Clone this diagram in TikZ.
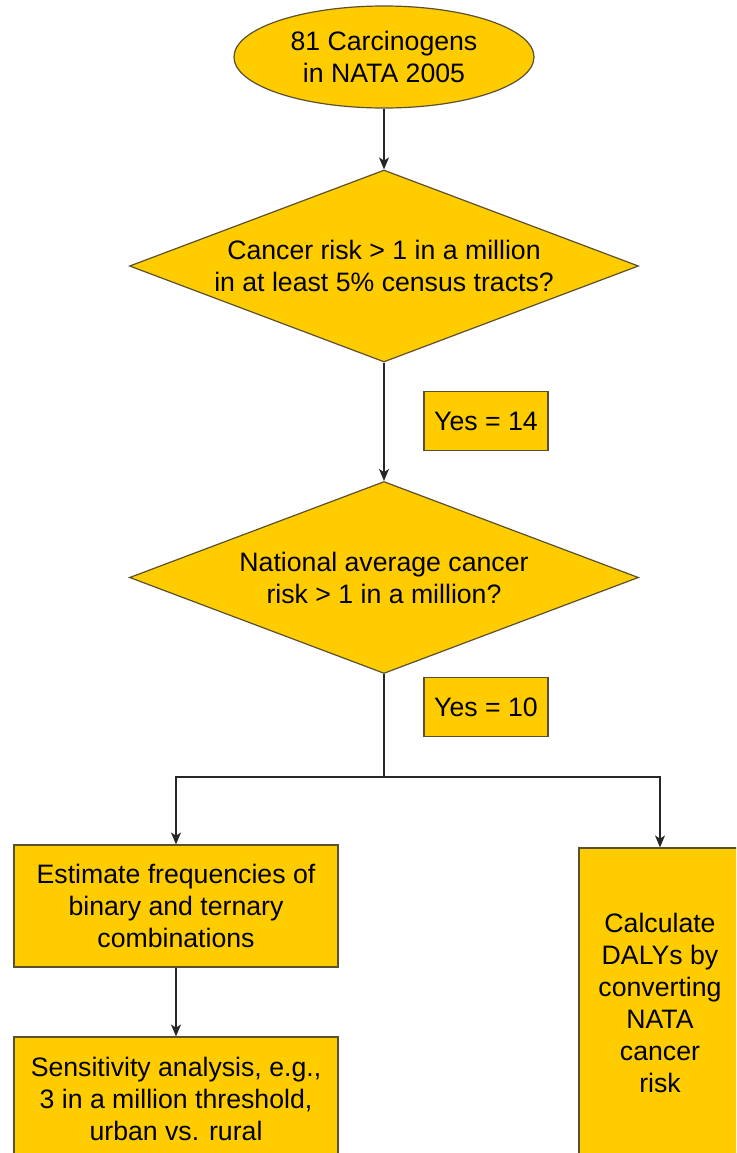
\documentclass[tikz,border=0pt]{standalone}
\usepackage{fontspec}
\setmainfont{Liberation Sans}
\usetikzlibrary{shapes.geometric,arrows.meta}
\definecolor{boxfill}{HTML}{FFCC00}
\definecolor{boxline}{HTML}{5A5030}
\tikzset{
  base/.style={draw=boxline, fill=boxfill, line width=0.9pt, inner sep=0pt,
    font=\fontsize{20}{24}\selectfont, align=center, text=black},
  startnode/.style={base, ellipse, minimum width=225pt, minimum height=76.5pt},
  decision/.style={base, diamond, aspect=2.65, minimum width=381.75pt, minimum height=144pt},
  countbox/.style={base, rectangle, minimum width=93pt, minimum height=44pt},
  stepbox/.style={base, rectangle},
  conn/.style={draw=black!85, line width=0.9pt},
  arr/.style={conn, -{Stealth[length=9pt,width=7.5pt,inset=2.5pt]}}
}
\begin{document}
\begin{tikzpicture}[x=0.75pt,y=-0.75pt]
\useasboundingbox (0,0) rectangle (736,1153);
\clip (0,0) rectangle (736,1153);
\node[startnode] (start) at (384,57) {81 Carcinogens\\in NATA 2005};
\node[decision] (d1) at (384,266) {Cancer risk > 1 in a million\\in at least 5\% census tracts?};
\node[countbox] (y14) at (486,421) {Yes = 14};
\node[decision] (d2) at (384,577.5) {National average cancer\\risk > 1 in a million?};
\node[countbox] (y10) at (486,707) {Yes = 10};
\node[stepbox, minimum width=243pt, minimum height=91.5pt] (est) at (176,906) {Estimate frequencies of\\binary and ternary\\combinations};
\node[stepbox, minimum width=243pt, minimum height=93pt] (sens) at (176,1099) {Sensitivity analysis, e.g.,\\3 in a million threshold,\\urban vs. rural};
\node[stepbox, minimum width=121.5pt, minimum height=232.5pt] (daly) at (660,1003) {Calculate\\DALYs by\\converting\\NATA\\cancer\\risk};
\coordinate (j) at (384,777);
\coordinate (jl) at (176,777);
\coordinate (jr) at (660,777);
\draw[arr] (start.south) -- (d1.north);
\draw[arr] (d1.south) -- (d2.north);
\draw[conn] (d2.south) -- (j);
\draw[arr] (j) -- (jl) -- (est.north);
\draw[arr] (j) -- (jr) -- (daly.north);
\draw[arr] (est.south) -- (sens.north);
\end{tikzpicture}
\end{document}
